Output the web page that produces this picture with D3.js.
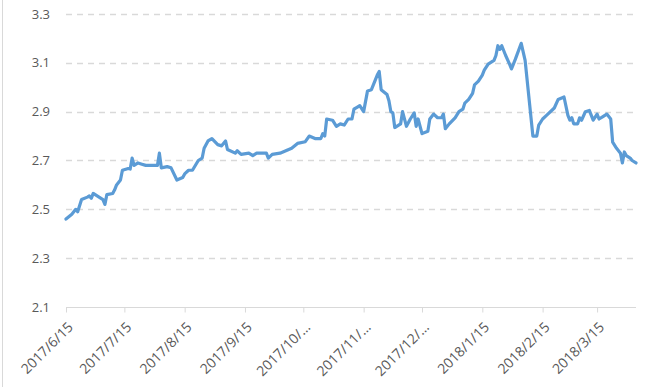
<!DOCTYPE html>
<html>
<head>
<meta charset="utf-8">
<script src="https://cdn.jsdelivr.net/npm/d3@7.9.0/dist/d3.min.js"></script>
<style>
  html, body { margin: 0; padding: 0; background: #fff; }
  svg { display: block; }
  text { font-family: "Open Sans", "Liberation Sans", sans-serif; fill: #595959; }
</style>
</head>
<body>
<svg id="chart" width="657" height="387"></svg>
<script>
// ---------- Data ----------
const dates = [
  "2017-06-15","2017-06-18","2017-06-20","2017-06-21","2017-06-23","2017-06-26","2017-06-27","2017-06-28","2017-06-29",
  "2017-07-01","2017-07-04","2017-07-05","2017-07-06","2017-07-09","2017-07-10","2017-07-11","2017-07-13","2017-07-14",
  "2017-07-17","2017-07-18","2017-07-19","2017-07-20","2017-07-22","2017-07-24","2017-07-26",
  "2017-08-01","2017-08-02","2017-08-03","2017-08-06","2017-08-08","2017-08-11","2017-08-14","2017-08-15","2017-08-17",
  "2017-08-19","2017-08-22","2017-08-24","2017-08-25","2017-08-27","2017-08-29",
  "2017-09-01","2017-09-03","2017-09-05","2017-09-06","2017-09-10","2017-09-11","2017-09-13","2017-09-17","2017-09-19",
  "2017-09-21","2017-09-26","2017-09-27","2017-09-29",
  "2017-10-03","2017-10-09","2017-10-12","2017-10-16","2017-10-18","2017-10-21","2017-10-24","2017-10-25","2017-10-26",
  "2017-10-27","2017-10-30",
  "2017-11-01","2017-11-03","2017-11-05","2017-11-07","2017-11-09","2017-11-10","2017-11-12","2017-11-13","2017-11-15",
  "2017-11-17","2017-11-19","2017-11-22","2017-11-23","2017-11-24","2017-11-27","2017-11-28","2017-11-29","2017-11-30",
  "2017-12-01","2017-12-04","2017-12-05","2017-12-07","2017-12-09","2017-12-11","2017-12-12","2017-12-13","2017-12-15",
  "2017-12-18","2017-12-19","2017-12-21","2017-12-23","2017-12-25","2017-12-26","2017-12-27","2017-12-29",
  "2018-01-01","2018-01-03","2018-01-05","2018-01-06","2018-01-08","2018-01-10","2018-01-11","2018-01-13","2018-01-15",
  "2018-01-16","2018-01-18","2018-01-21","2018-01-22","2018-01-23","2018-01-24","2018-01-25","2018-01-27","2018-01-29",
  "2018-01-30",
  "2018-02-01","2018-02-04","2018-02-06","2018-02-10","2018-02-12","2018-02-13","2018-02-15","2018-02-17","2018-02-21",
  "2018-02-23","2018-02-26","2018-02-28",
  "2018-03-01","2018-03-02","2018-03-03","2018-03-05","2018-03-06","2018-03-07","2018-03-09","2018-03-11","2018-03-13",
  "2018-03-15","2018-03-16","2018-03-18","2018-03-20","2018-03-22","2018-03-23","2018-03-25","2018-03-27","2018-03-28",
  "2018-03-29","2018-03-30","2018-04-01","2018-04-02","2018-04-04"
];
const values = [
  2.46,2.48,2.50,2.49,2.54,2.55,2.555,2.545,2.565,
  2.555,2.54,2.52,2.56,2.565,2.58,2.60,2.62,2.66,
  2.667,2.665,2.71,2.68,2.69,2.685,2.68,
  2.68,2.73,2.67,2.675,2.67,2.62,2.63,2.645,2.66,
  2.66,2.70,2.71,2.75,2.78,2.79,
  2.765,2.76,2.78,2.745,2.73,2.74,2.725,2.73,2.72,
  2.73,2.73,2.71,2.725,
  2.73,2.75,2.77,2.777,2.80,2.79,2.79,2.81,2.80,
  2.87,2.865,
  2.84,2.85,2.845,2.87,2.87,2.91,2.92,2.925,2.90,
  2.985,2.99,3.05,3.065,2.99,2.97,2.945,2.90,2.895,
  2.835,2.85,2.90,2.84,2.87,2.895,2.84,2.87,2.81,
  2.82,2.87,2.89,2.875,2.875,2.89,2.83,2.85,
  2.875,2.90,2.91,2.935,2.95,2.975,3.01,3.025,3.05,
  3.07,3.095,3.11,3.13,3.17,3.155,3.17,3.13,3.095,
  3.075,
  3.115,3.18,3.11,2.80,2.80,2.845,2.87,2.885,2.915,
  2.95,2.96,2.885,
  2.865,2.875,2.85,2.85,2.875,2.865,2.90,2.905,2.865,
  2.89,2.87,2.88,2.89,2.87,2.775,2.75,2.73,2.69,
  2.735,2.72,2.71,2.70,2.69
];
const yTicks = [2.1, 2.3, 2.5, 2.7, 2.9, 3.1, 3.3];
const xTickDates = ["2017-06-15","2017-07-15","2017-08-15","2017-09-15","2017-10-15","2017-11-15",
                    "2017-12-15","2018-01-15","2018-02-15","2018-03-15"];
const xTickLabels = ["2017/6/15","2017/7/15","2017/8/15","2017/9/15","2017/10/\u2026","2017/11/\u2026",
                     "2017/12/\u2026","2018/1/15","2018/2/15","2018/3/15"];

// ---------- Setup ----------
const parse = d3.timeParse("%Y-%m-%d");
const data = dates.map((d, i) => ({ date: parse(d), value: values[i] }));

const svg = d3.select("#chart");
const margin = { top: 14, right: 21, bottom: 80, left: 66 };
const width = 657, height = 387;

const x = d3.scaleTime()
  .domain([parse("2017-06-15"), parse("2018-04-04")])
  .range([margin.left, width - margin.right]);
const y = d3.scaleLinear()
  .domain([2.1, 3.3])
  .range([height - margin.bottom, margin.top]);

// left border of the chart area
svg.append("line")
  .attr("x1", 2.5).attr("x2", 2.5)
  .attr("y1", 0).attr("y2", height)
  .attr("stroke", "#d9d9d9").attr("stroke-width", 1);

// gridlines (dashed), skip baseline
svg.append("g")
  .selectAll("line")
  .data(yTicks.filter(t => t !== 2.1))
  .join("line")
  .attr("x1", margin.left).attr("x2", width - margin.right)
  .attr("y1", d => Math.round(y(d)) + 0.5).attr("y2", d => Math.round(y(d)) + 0.5)
  .attr("stroke", "#d9d9d9")
  .attr("stroke-width", 1.5)
  .attr("stroke-dasharray", "6,5");

// y labels
svg.append("g")
  .selectAll("text")
  .data(yTicks)
  .join("text")
  .attr("x", 50)
  .attr("y", d => y(d))
  .attr("dy", "0.35em")
  .attr("text-anchor", "end")
  .style("font-size", "13px")
  .text(d => d.toFixed(1));

// x axis
const xAxis = d3.axisBottom(x)
  .tickValues(xTickDates.map(parse))
  .tickSize(5)
  .tickFormat((d, i) => xTickLabels[i]);

const gx = svg.append("g")
  .attr("transform", `translate(0,${Math.round(y(2.1)) + 0.5})`)
  .call(xAxis);
gx.select(".domain").attr("stroke", "#d9d9d9").attr("d", `M${margin.left},0H${width - margin.right}`);
gx.selectAll(".tick line").attr("stroke", "#d9d9d9");
gx.selectAll(".tick text")
  .attr("fill", "#595959")
  .style("font-size", "14px")
  .style("font-family", "'Open Sans', 'Liberation Sans', sans-serif")
  .attr("text-anchor", "end")
  .attr("y", 0).attr("dy", "0.35em")
  .attr("transform", "translate(4,17) rotate(-45)");

// line
const line = d3.line()
  .x(d => x(d.date))
  .y(d => y(d.value));

svg.append("path")
  .datum(data)
  .attr("fill", "none")
  .attr("stroke", "#5b9bd5")
  .attr("stroke-width", 3.2)
  .attr("stroke-linejoin", "round")
  .attr("stroke-linecap", "round")
  .attr("d", line);
</script>
</body>
</html>
